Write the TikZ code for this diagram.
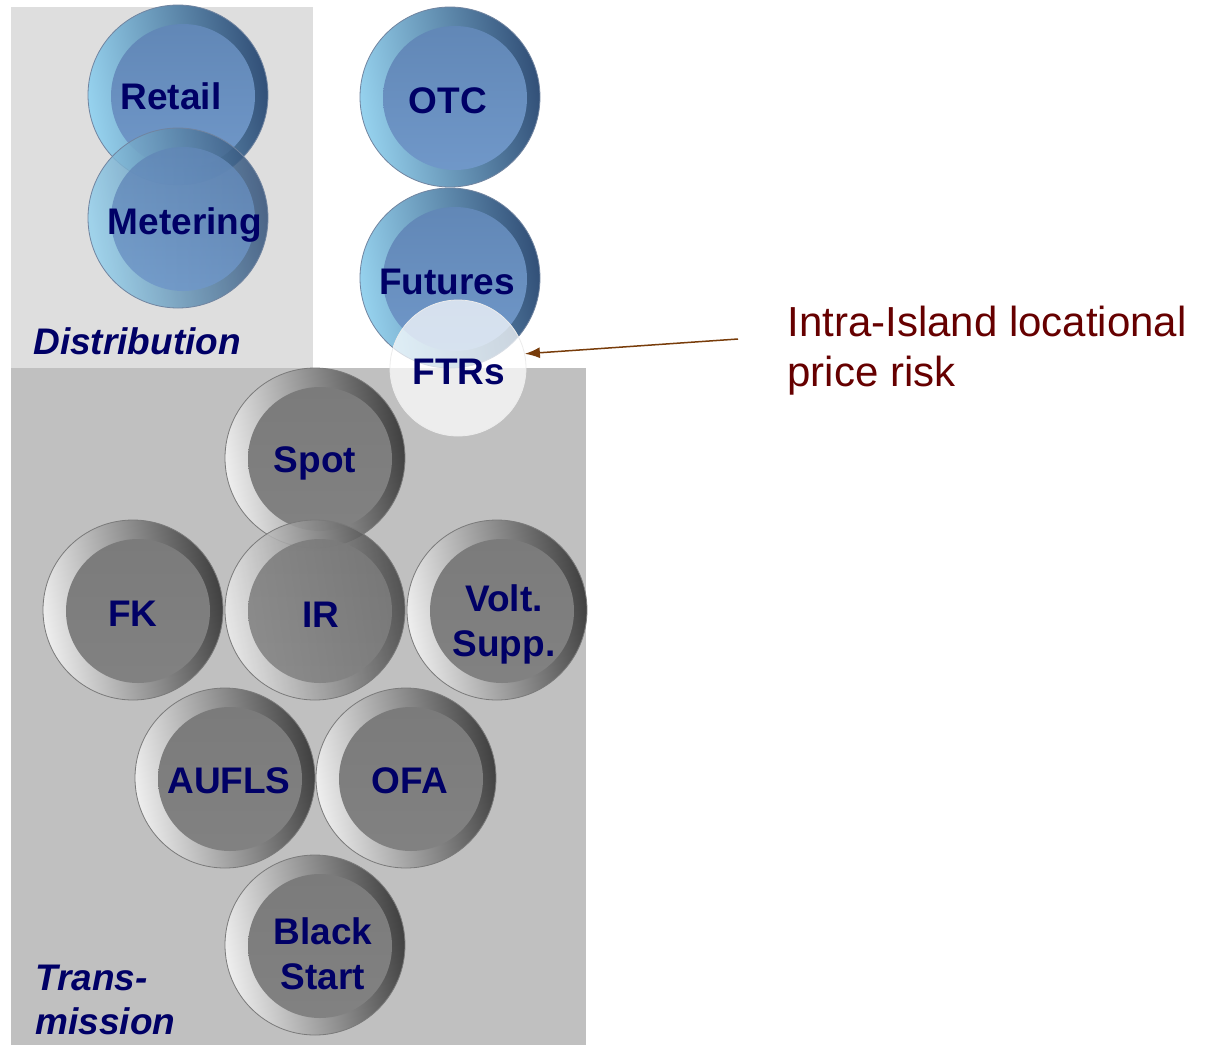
\documentclass[tikz,border=0pt]{standalone}
\usepackage{fontspec}
\setmainfont{Liberation Sans}
\usepackage{tikz}
\usetikzlibrary{positioning, arrows.meta}
\definecolor{navy_text}{RGB}{0,0,102}
\definecolor{note_red}{RGB}{102,0,0}
\definecolor{note_brown}{RGB}{120,60,10}
\definecolor{dist_back}{RGB}{222,222,222}
\definecolor{trans_back}{RGB}{192,192,192}
\definecolor{blue_light}{RGB}{150,210,238}
\definecolor{blue_mid}{RGB}{100,145,195}
\definecolor{blue_dark}{RGB}{50,80,120}
\definecolor{blue_face}{RGB}{106,148,200}
\definecolor{gray_light}{RGB}{238,238,238}
\definecolor{gray_mid}{RGB}{155,155,155}
\definecolor{gray_dark}{RGB}{65,65,65}
\definecolor{gray_face}{RGB}{130,130,130}
% nudge a label: horizontal offset, vertical offset, lines
\newcommand{\nudge}[3]{\raisebox{#2}[\height][\depth]{\makebox[0pt]{\hspace*{#1}\begin{tabular}{@{}c@{}}#3\end{tabular}}}}
\tikzstyle{label} = [font=\fontsize{18.5}{22.5}\selectfont\bfseries, text=navy_text, align=center]
\tikzstyle{bluedisc} = [label, circle, minimum size=90pt, inner sep=0pt, draw=blue_dark!70, line width=0.4pt,
                    left color=blue_light, middle color=blue_mid, right color=blue_dark, shading angle=100,
                    path picture={\shade[top color=blue_face!90!black, bottom color=blue_face!95!white]
                      ([xshift=2.5pt,yshift=-0.5pt]path picture bounding box.center) circle (36pt);}]
\tikzstyle{graydisc} = [label, circle, minimum size=90pt, inner sep=0pt, draw=gray_dark!70, line width=0.4pt,
                    left color=gray_light, middle color=gray_mid, right color=gray_dark, shading angle=100,
                    path picture={\shade[top color=gray_face!94!black, bottom color=gray_face]
                      ([xshift=2.5pt,yshift=-0.5pt]path picture bounding box.center) circle (36pt);}]
\tikzstyle{seethrough} = [fill opacity=0.85, text opacity=1]
\tikzstyle{group} = [font=\fontsize{18.5}{22}\selectfont\bfseries\itshape, text=navy_text, align=left, inner sep=0pt]
\tikzstyle{arrow} = [line width=0.75pt, -{Latex[length=7.5pt, width=5.5pt]}, note_brown]

\begin{document}
\begin{tikzpicture}[x=0.5pt, y=-0.5pt]

    \useasboundingbox[fill=white] (0,0) rectangle (1211,1045);

    % panels
    \fill[dist_back] (11,7) rectangle (313,368);
    \fill[trans_back] (11,368) rectangle (586,1045);

    % distribution and contracts
    \node[bluedisc] (retail) at (178,95) {\nudge{-7pt}{-2.5pt}{Retail}};
    \node[bluedisc, seethrough] (metering) at (178,218) {\nudge{7pt}{-3.5pt}{Metering}};
    \node[bluedisc] (otc) at (450,97) {\nudge{-2pt}{-3.5pt}{OTC}};
    \node[bluedisc] (futures) at (450,278) {\nudge{-3pt}{-3.5pt}{Futures}};

    % transmission services
    \node[graydisc] (spot) at (315,458) {\nudge{0pt}{-2.5pt}{Spot}};
    \node[graydisc] (fk) at (133,610) {\nudge{0pt}{-3.5pt}{FK}};
    \node[graydisc, seethrough] (ir) at (315,610) {\nudge{6pt}{-4pt}{IR}};
    \node[graydisc] (volt) at (497,610) {\nudge{7pt}{-7.5pt}{Volt.\\Supp.}};
    \node[graydisc] (aufls) at (225,778) {\nudge{4pt}{-3pt}{AUFLS}};
    \node[graydisc] (ofa) at (406,778) {\nudge{4pt}{-3pt}{OFA}};
    \node[graydisc] (black) at (315,945) {\nudge{8pt}{-6.5pt}{Black\\Start}};

    \node[label, circle, minimum size=68pt, inner sep=0pt, draw=white!85!gray, fill=white,
          fill opacity=0.72, text opacity=1] (ftrs) at (458,368) {\nudge{1pt}{-3.5pt}{FTRs}};

    \node[group, anchor=west] (dist) at (33,341) {Distribution};
    \node[group, anchor=north west] (trans) at (35,965) {Trans-\\mission};

    % note
    \node[font=\fontsize{21}{25}\selectfont, text=note_red, align=left, anchor=north west, inner sep=0pt]
        (note) at (787,306) {Intra-Island locational\\price risk};
    \coordinate (tail) at (738,339);
    \draw[arrow] (tail) to (ftrs.12);

\end{tikzpicture}
\end{document}
